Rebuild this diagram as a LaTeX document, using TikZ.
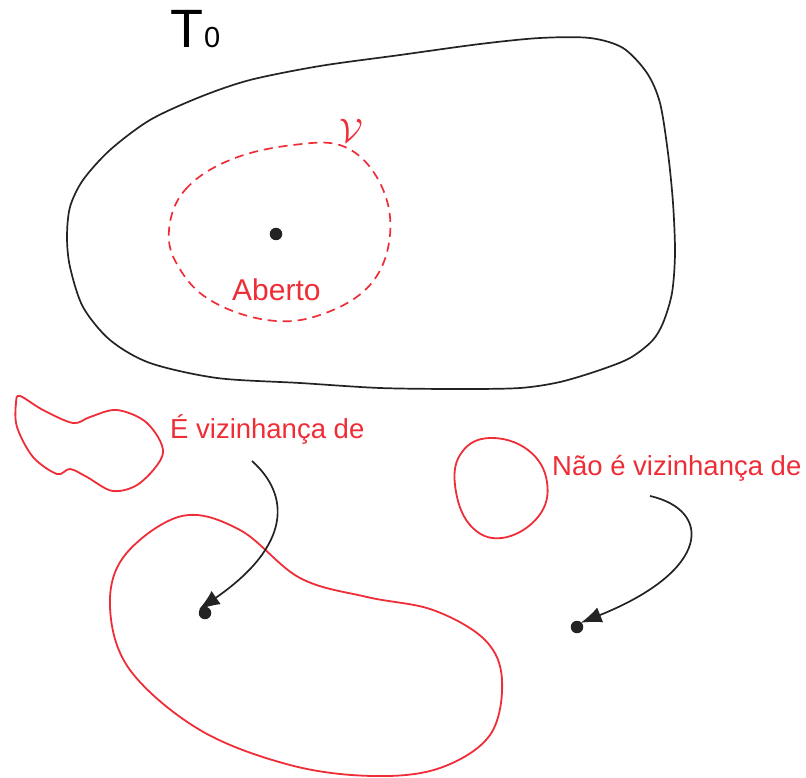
\documentclass[tikz,border=0pt]{standalone}
\usepackage{fontspec}
\setmainfont{Liberation Sans}
\usetikzlibrary{arrows.meta}
\definecolor{setred}{RGB}{238,45,55}
\definecolor{ink}{RGB}{35,35,35}
\tikzset{
  outline/.style={draw=ink, line width=1.7pt},
  region/.style={draw=setred, line width=1.8pt},
  openset/.style={draw=setred, line width=1.7pt, dash pattern=on 9pt off 6pt},
  pointdot/.style={circle, fill=ink, inner sep=0pt, minimum size=12.5pt},
  redlabel/.style={text=setred, font=\fontsize{27.5}{30}\selectfont, inner sep=0pt, anchor=base west},
  pointer/.style={draw=ink, line width=1.7pt, -{Latex[length=21pt,width=16pt]}}
}
\begin{document}
\begin{tikzpicture}[x=1pt, y=-1pt]
\useasboundingbox (0,0) rectangle (806,778);

% the space T_0
\draw[outline] plot[smooth cycle, tension=0.5] coordinates {
  (67,237) (70,207) (83,180) (110,150) (150,120) (200,97) (250,80)
  (320,66) (400,55) (480,44) (540,38) (590,38) (623,48) (647,73)
  (660,103) (668,153) (673,203) (675,253) (672,293) (663,323)
  (652,341) (630,358) (600,370) (560,382) (520,388) (460,389)
  (380,388) (300,383) (217,378) (150,363) (110,340) (83,307) (70,267)};
\node[anchor=base west, inner sep=0pt, font=\fontsize{54}{60}\selectfont] (tname) at (170,48) {T};
\node[anchor=base west, inner sep=0pt, font=\fontsize{29}{32}\selectfont] (tsub) at (204,48) {0};

% open neighbourhood V around the point
\draw[openset] plot[smooth cycle, tension=0.65] coordinates {
  (169,230) (185,190) (230,160) (293,145) (345,147) (380,183)
  (390,235) (370,285) (320,315) (267,320) (210,300) (178,266)};
\node[text=setred, scale=3.4, inner sep=0pt] (vname) at (351,131) {$\mathcal{V}$};
\node[pointdot] (p0) at (276,234) {};
\node[redlabel, font=\fontsize{30}{32}\selectfont] (aberto) at (232,300) {Aberto};

% small blob, left
\draw[region] plot[smooth cycle, tension=0.55] coordinates {
  (20,396) (43,410) (73,423) (90,417) (117,410) (147,423) (163,453)
  (140,483) (113,491) (87,477) (70,469) (57,474) (33,457) (17,427) (16,403)};
\node[redlabel] (lblyes) at (170,438) {É vizinhança de};

% small blob, right
\draw[region] plot[smooth cycle, tension=0.7] coordinates {
  (490,438) (528,450) (547,482) (538,517) (502,538) (470,525) (455,485) (462,452)};
\node[redlabel] (lblno) at (552,475) {Não é vizinhança de};

% large blob containing the first point
\draw[region] plot[smooth cycle, tension=0.6] coordinates {
  (182,516) (240,530) (300,578) (367,597) (433,610) (485,640) (502,680)
  (490,735) (440,768) (373,776) (290,765) (200,730) (130,670) (110,607) (125,555)};

% the two points and the arrows pointing at them
\node[pointdot] (p1) at (205,613) {};
\node[pointdot] (p2) at (577,627) {};
\coordinate (s1) at (252,461);
\coordinate (s2) at (650,496);
\draw[pointer, shorten >=-2pt] (s1) .. controls (290,495) and (292,545) .. (p1.north west);
\draw[pointer, shorten >=-1pt] (s2) .. controls (712,510) and (712,570) .. (p2.north east);
\end{tikzpicture}
\end{document}
